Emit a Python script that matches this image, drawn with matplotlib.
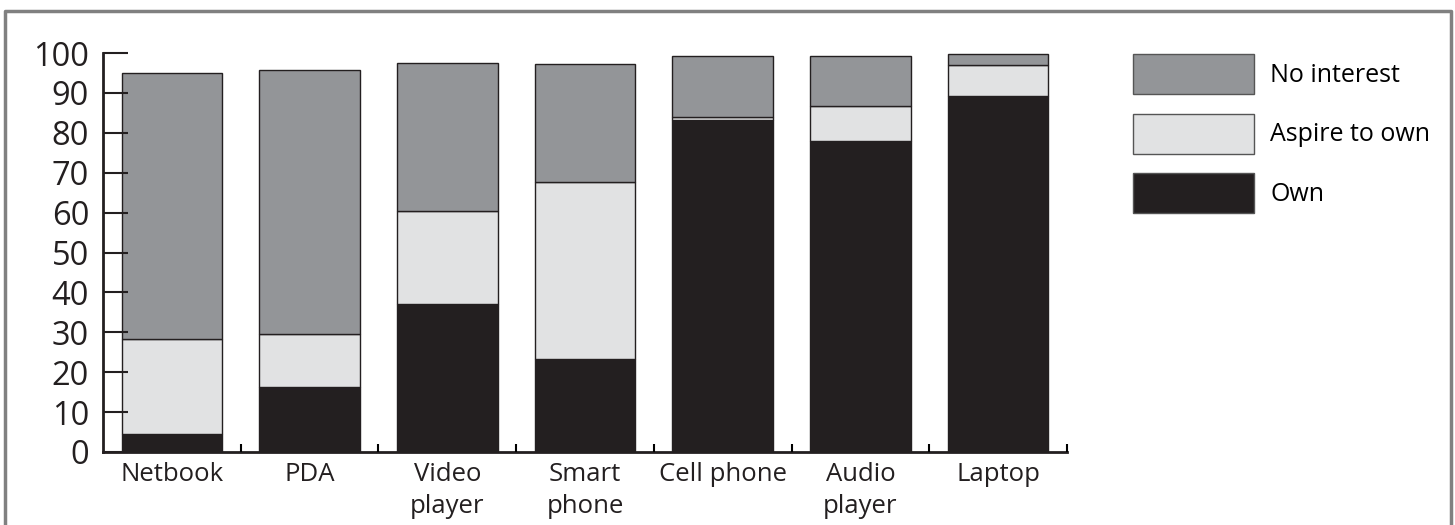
import matplotlib.pyplot as plt
import numpy as np
from matplotlib.patches import Patch
from matplotlib.lines import Line2D

plt.rcParams['font.family'] = ['Open Sans', 'DejaVu Sans']

# Дані графіка
devices = ['Netbook', 'PDA', 'Video\nplayer', 'Smart\nphone', 'Cell phone', 'Audio\nplayer', 'Laptop']
own = [4.4, 16.4, 37.2, 23.2, 83.2, 78.0, 89.1]
aspire = [23.8, 13.1, 23.2, 44.5, 0.8, 8.7, 8.0]
no_interest = [66.8, 66.3, 37.2, 29.5, 15.2, 12.6, 2.6]
yticks = [0, 10, 20, 30, 40, 50, 60, 70, 80, 90, 100]

c_own = '#231f20'
c_aspire = '#e1e2e3'
c_none = '#939598'

W, H = 1455, 525
fig = plt.figure(figsize=(W / 100, H / 100), dpi=100)
ax = fig.add_axes([103 / W, 1 - 452 / H, (1067 - 103) / W, (452 - 53) / H])

x = np.arange(len(devices))
own = np.array(own)
aspire = np.array(aspire)
no_interest = np.array(no_interest)
bw = 0.73
ax.bar(x, own, bw, color=c_own, edgecolor=c_own, linewidth=1)
ax.bar(x, aspire, bw, bottom=own, color=c_aspire, edgecolor=c_own, linewidth=1)
ax.bar(x, no_interest, bw, bottom=own + aspire, color=c_none, edgecolor=c_own, linewidth=1)

ax.set_xlim(-0.5, len(devices) - 0.5)
ax.set_ylim(0, 100)
ax.set_yticks(yticks)
ax.tick_params(axis='y', direction='in', length=18, width=1.5, labelsize=23.5, pad=10, colors='#231f20')
ax.set_xticks(x)
ax.set_xticklabels(devices, fontsize=18.5, linespacing=1.4)
ax.tick_params(axis='x', which='major', length=0, pad=7, colors='#231f20')
ax.set_xticks(np.arange(0.5, len(devices), 1), minor=True)
ax.tick_params(axis='x', which='minor', direction='in', length=6, width=1.5)

for s in ['top', 'right']:
    ax.spines[s].set_visible(False)
for s in ['left', 'bottom']:
    ax.spines[s].set_linewidth(2)
    ax.spines[s].set_color('#231f20')
    ax.spines[s].set_zorder(0.5)

# Легенда: розміри в одиницях шрифту (18 pt = 25 px)
fs_px = 25.0
handles = [Patch(facecolor=c_none, edgecolor='#555555', linewidth=1),
           Patch(facecolor=c_aspire, edgecolor='#555555', linewidth=1),
           Patch(facecolor=c_own, edgecolor='#555555', linewidth=1)]
fig.legend(handles, ['No interest', 'Aspire to own', 'Own'],
           loc='upper left', bbox_to_anchor=(1133 / W, 1 - 54 / H),
           frameon=False, fontsize=18, borderpad=0, borderaxespad=0,
           handlelength=121 / fs_px, handleheight=(40 / fs_px - 0.245) / 0.65,
           labelspacing=19.5 / fs_px, handletextpad=16 / fs_px)

# Сіра рамка навколо графіка
gray = '#808080'
fig.add_artist(Line2D([5 / W, 5 / W, 1451 / W, 1451 / W], [0, 1 - 11 / H, 1 - 11 / H, 0],
                      transform=fig.transFigure, color=gray, linewidth=2.5))

plt.savefig('out.png', dpi=100)
